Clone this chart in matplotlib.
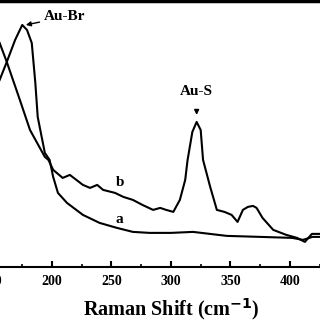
import numpy as np
import matplotlib.pyplot as plt
from matplotlib.ticker import MultipleLocator

# Raman spectra (arbitrary intensity units)
shift_b = [156, 162, 173, 181.5, 194, 197, 201, 209, 215, 226, 232, 238, 243, 253, 260, 268,
           276, 285, 291, 296, 302, 307.5, 312, 314, 318, 321.6, 325, 327, 333, 338.6, 345, 351,
           356, 360.5, 364.7, 369, 372, 377, 386, 397, 406, 412.6, 418.5, 425]
int_b = [224, 205, 167, 137, 110, 107, 97, 89, 92, 82, 79, 82, 77, 74, 70, 67,
         62, 57, 59, 57, 55, 67, 87, 107, 135, 145, 137, 107, 80, 57, 55, 52,
         45, 57, 60, 61, 59, 49, 37, 32, 29, 25, 33, 33]

shift_a = [156, 162, 169, 175, 179, 183, 186, 188, 194, 198, 201, 205, 212.6, 226, 240,
           254.6, 268, 282, 300, 318.5, 347, 375, 402, 411, 419, 425]
int_a = [187, 205, 227, 242, 237, 224, 184, 150, 114, 107, 90, 74, 64, 52, 44,
         39, 35, 34, 34, 35, 31, 30, 29, 27, 30, 30]

plt.rcParams['font.family'] = ['Liberation Serif', 'DejaVu Serif']
plt.rcParams['font.weight'] = 'bold'

fig = plt.figure(figsize=(3.2, 3.2), dpi=100)
ax = fig.add_axes([-0.042, 0.166, 1.078, 0.831])
ax.plot(shift_a, int_a, color='black', lw=1.5)
ax.plot(shift_b, int_b, color='black', lw=1.5)

ax.set_xlim(145, 435)
ax.set_ylim(0, 266)
ax.set_yticks([])
ax.xaxis.set_major_locator(MultipleLocator(50))
ax.xaxis.set_minor_locator(MultipleLocator(25))
ax.tick_params(axis='x', which='major', direction='in', length=4, width=1.5,
               labelsize=10, pad=6)
ax.tick_params(axis='x', which='minor', direction='in', length=2.5, width=1.2)
for lab in ax.get_xticklabels():
    lab.set_fontweight('bold')
for s in ['left', 'right']:
    ax.spines[s].set_visible(False)
ax.spines['bottom'].set_linewidth(1.5)
ax.spines['top'].set_linewidth(2.5)

ax.set_xlabel('Raman Shift (cm$^{\\mathbf{-1}}$)', fontsize=14.5, fontweight='bold')
ax.xaxis.set_label_coords(0.535, -0.108)

ax.text(257, 84, 'b', fontsize=11, fontweight='bold', ha='center', va='center')
ax.text(257, 47, 'a', fontsize=11, fontweight='bold', ha='center', va='center')

ax.annotate('Au-Br', xy=(178, 242), xytext=(193, 250), fontsize=11, fontweight='bold',
            ha='left', va='center',
            arrowprops=dict(arrowstyle='-|>', color='black', lw=1, mutation_scale=7,
                            shrinkA=1, shrinkB=0))
ax.annotate('Au-S', xy=(321.6, 152), xytext=(321.6, 175), fontsize=11, fontweight='bold',
            ha='center', va='center',
            arrowprops=dict(arrowstyle='-|>', color='black', lw=1, mutation_scale=7,
                            shrinkA=6, shrinkB=0))

fig.savefig('out.png', dpi=100)
